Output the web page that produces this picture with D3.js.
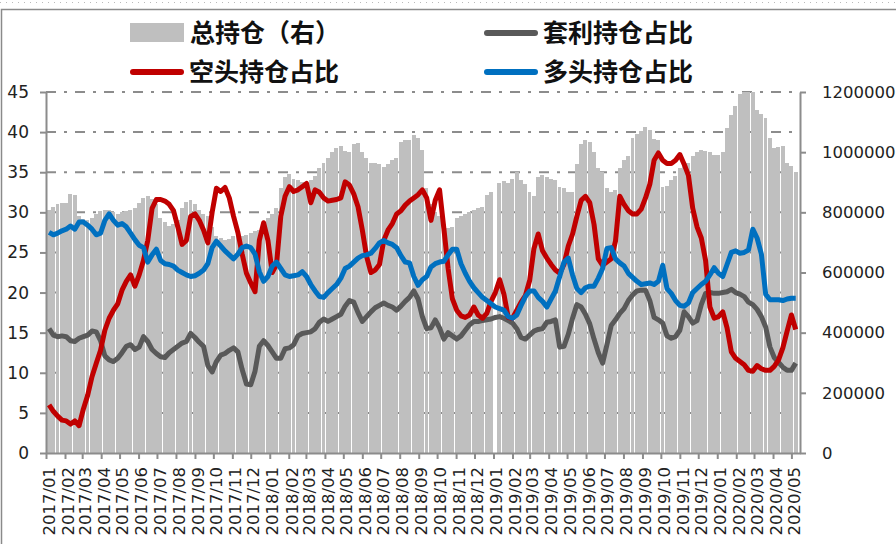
<!DOCTYPE html>
<html lang="zh">
<head>
<meta charset="utf-8" />
<title>持仓结构</title>
<script src="https://d3js.org/d3.v7.min.js"></script>
<style>
    body { margin: 0; background: #fff; }
    svg { display: block; font-family: "DejaVu Sans", sans-serif; }
    .axis text { fill: #222; }
    .legend text { font-family: "Noto Sans CJK SC", sans-serif; font-size: 25px; font-weight: 700; fill: #111; }
</style>
</head>
<body>
<svg width="896" height="544"></svg>
<script>

    // weekly data, first week ending 2017-01-06
    var totalOI = [808000,819000,827000,832000,832000,861000,859000,787000,779000,773000,
        781000,795000,805000,808000,808000,800000,795000,800000,805000,808000,
        816000,832000,848000,853000,843000,827000,781000,768000,755000,760000,
        773000,816000,835000,840000,827000,808000,795000,787000,752000,720000,
        715000,707000,712000,720000,725000,720000,723000,731000,739000,741000,
        752000,781000,795000,813000,880000,917000,928000,912000,907000,901000,
        896000,907000,920000,947000,965000,981000,1000000,1013000,1019000,1003000,
        1000000,1027000,1029000,1000000,981000,965000,963000,960000,952000,960000,
        973000,981000,1035000,1040000,1040000,1056000,1048000,1008000,880000,827000,
        800000,787000,760000,747000,752000,781000,787000,795000,800000,808000,
        813000,819000,859000,869000,null,899000,904000,899000,912000,933000,
        907000,893000,867000,853000,917000,923000,917000,912000,907000,885000,
        880000,869000,867000,960000,1027000,1040000,1035000,1000000,947000,933000,
        880000,867000,875000,947000,973000,987000,1048000,1061000,1072000,1083000,
        1075000,1045000,1040000,885000,888000,907000,920000,947000,960000,965000,
        987000,1000000,1008000,1003000,1000000,992000,989000,1000000,1080000,1125000,
        1152000,1195000,1200000,1200000,1200000,1141000,1128000,1115000,1048000,1013000,
        1016000,1019000,965000,955000,933000];

    var arbShare = [15.5,14.7,14.5,14.6,14.5,14.0,13.9,14.3,14.5,14.7,
        15.2,15.1,14.0,12.1,11.6,11.4,11.8,12.5,13.3,13.5,
        12.9,13.2,14.5,13.9,12.9,12.4,12.0,11.9,12.5,12.9,
        13.3,13.7,13.9,14.9,14.4,13.8,13.3,10.9,10.1,11.4,
        12.2,12.4,12.8,13.1,12.6,10.4,8.6,8.5,10.2,13.3,
        14.0,13.4,12.6,11.8,11.8,13.0,13.1,13.5,14.6,14.9,
        15.0,15.1,15.5,16.3,16.7,16.4,16.7,17.0,17.3,18.3,
        19.0,18.8,17.5,16.4,17.0,17.6,18.1,18.4,18.7,18.4,
        18.2,17.8,18.3,18.9,19.4,20.2,19.2,17.0,15.5,15.6,
        16.6,15.6,14.2,15.0,14.6,14.2,14.6,15.3,16.0,16.4,
        16.4,16.5,16.6,16.7,16.9,17.0,16.8,16.5,16.2,15.5,
        14.4,14.2,14.7,15.2,15.4,15.5,16.3,16.4,16.6,13.2,
        13.3,14.8,16.8,18.5,18.2,17.3,16.1,14.2,12.5,11.2,
        13.5,15.9,16.6,17.4,18.0,19.0,19.7,20.2,20.3,20.3,
        19.0,16.9,16.6,16.2,14.6,14.3,14.5,15.3,17.6,17.0,
        16.2,16.5,18.5,19.9,20.0,19.9,19.9,20.0,20.1,20.4,
        20.0,19.8,19.5,18.8,18.5,17.9,17.0,15.7,13.2,11.9,
        11.3,10.7,10.3,10.3,11.2];

    var shortShare = [6.0,5.2,4.6,4.1,4.0,3.6,4.0,3.4,5.5,7.2,
        9.5,11.2,12.8,15.3,16.8,17.8,18.6,20.3,21.4,22.2,
        20.8,22.2,24.0,26.5,30.5,31.6,31.6,31.4,31.0,30.2,
        28.2,26.0,26.5,29.5,29.8,29.0,27.8,26.2,30.0,33.0,
        32.6,33.1,31.8,29.5,27.5,24.8,22.4,21.2,20.1,26.5,
        28.7,26.5,22.5,23.5,29.5,32.0,33.2,32.6,32.8,33.2,
        33.6,31.2,32.8,32.5,31.8,31.4,31.5,31.6,31.8,33.8,
        33.4,32.3,30.7,27.8,24.5,22.5,22.8,23.5,26.5,27.8,
        28.6,29.8,30.2,30.9,31.4,31.8,32.2,32.8,31.8,29.0,
        31.5,32.8,28.0,23.0,19.2,17.8,17.1,16.9,17.2,18.2,
        17.2,16.8,17.4,18.9,20.0,21.6,19.8,16.9,16.8,17.8,
        18.8,19.6,21.5,25.5,27.3,25.2,24.3,23.5,22.8,22.4,
        23.5,25.8,27.3,29.5,31.5,32.0,31.2,28.5,24.2,23.4,
        23.8,24.2,26.4,32.0,31.0,30.2,29.8,29.8,30.4,31.8,
        33.5,36.5,37.4,36.5,36.1,36.1,36.5,37.2,36.0,34.6,
        30.5,28.2,26.8,24.0,18.2,16.8,17.0,17.6,15.6,12.6,
        11.8,11.4,11.0,10.3,10.2,10.9,10.5,10.3,10.3,10.8,
        11.6,13.1,15.2,17.2,15.4];

    var longShare = [27.5,27.2,27.4,27.7,27.9,28.3,27.9,28.8,28.8,28.4,
        27.9,27.2,27.4,29.0,29.8,29.0,28.4,28.6,28.2,27.4,
        26.6,25.9,25.6,23.8,24.7,25.4,24.0,23.6,23.5,23.3,
        22.8,22.5,22.2,22.0,22.1,22.4,22.8,23.6,25.6,26.4,
        25.8,25.2,24.7,24.2,24.8,25.6,25.8,25.6,24.8,22.6,
        21.4,22.0,23.3,23.8,23.0,22.2,22.0,22.1,22.2,22.6,
        22.0,21.0,20.2,19.5,19.4,20.0,20.5,21.0,21.8,23.0,
        23.3,23.8,24.3,24.6,24.7,24.9,25.5,26.2,26.5,26.2,
        26.0,25.6,24.6,23.8,23.7,22.0,20.9,21.6,22.0,23.2,
        23.6,23.8,23.9,24.7,25.4,25.4,23.6,22.4,21.4,20.6,
        20.0,19.4,19.0,18.6,18.2,18.0,17.8,17.0,16.8,17.2,
        18.4,19.5,20.2,20.2,19.4,18.9,18.2,19.2,20.2,22.0,
        23.8,24.3,22.2,20.5,20.0,20.6,20.8,20.8,21.8,23.0,
        25.5,25.6,24.2,23.7,23.3,22.4,21.9,21.4,21.0,21.1,
        21.2,21.0,21.4,23.4,20.5,19.9,19.0,18.4,18.3,18.7,
        20.0,20.5,21.0,21.4,22.2,23.1,22.4,22.0,23.5,25.0,
        25.2,24.9,25.0,25.3,27.9,26.8,24.8,19.8,19.1,19.1,
        19.1,19.0,19.2,19.3,19.3];

    var leftTicks = [0, 5, 10, 15, 20, 25, 30, 35, 40, 45];
    var rightTicks = [0, 200000, 400000, 600000, 800000, 1000000, 1200000];

    var firstWeek = new Date(2017, 0, 6);
    var weeks = totalOI.map(function (d, i) { return d3.timeDay.offset(firstWeek, 7 * i); });
    var months = d3.timeMonth.range(new Date(2017, 0, 1), new Date(2020, 4, 2));

    var svg = d3.select("svg"),
        plot = { left: 46, right: 800, top: 92, bottom: 453 };

    var x = d3.scaleTime()
        .domain([new Date(2017, 0, 1), new Date(2020, 4, 15)])
        .range([plot.left, plot.right]);
    var yL = d3.scaleLinear().domain([0, 45]).range([plot.bottom, plot.top]);
    var yR = d3.scaleLinear().domain([0, 1200000]).range([plot.bottom, plot.top]);
    var step = x(weeks[1]) - x(weeks[0]);

    // frame
    svg.append("line")
        .attr("x1", 0).attr("x2", 896).attr("y1", 2.5).attr("y2", 2.5)
        .attr("stroke", "#bbb").attr("stroke-dasharray", "1,5");
    svg.append("path")
        .attr("d", "M1.5,560V9.5H896")
        .attr("fill", "none").attr("stroke", "#8a8a8a").attr("stroke-width", 1.5);

    // grid
    svg.append("g").selectAll("line")
        .data(leftTicks.slice(1))
        .enter().append("line")
        .attr("x1", plot.left).attr("x2", plot.right)
        .attr("y1", function (d) { return yL(d); })
        .attr("y2", function (d) { return yL(d); })
        .attr("stroke", "#8c8c8c")
        .attr("stroke-width", 2)
        .attr("stroke-dasharray", "10,8,3,8");

    // bars
    svg.append("g").selectAll("rect")
        .data(totalOI.map(function (v, i) { return { date: weeks[i], value: v }; })
            .filter(function (d) { return d.value != null; }))
        .enter().append("rect")
        .attr("shape-rendering", "crispEdges")
        .attr("fill", "#bfbfbf")
        .attr("x", function (d) { return x(d.date) - step / 2; })
        .attr("width", step - 0.35)
        .attr("y", function (d) { return yR(d.value); })
        .attr("height", function (d) { return plot.bottom - yR(d.value); });

    // axes
    var axL = svg.append("g").attr("class", "axis")
        .attr("transform", "translate(" + plot.left + ",0)")
        .call(d3.axisLeft(yL).tickValues(leftTicks).tickSize(6).tickSizeOuter(0).tickPadding(11));
    var axR = svg.append("g").attr("class", "axis")
        .attr("transform", "translate(" + plot.right + ",0)")
        .call(d3.axisRight(yR).tickValues(rightTicks).tickFormat(d3.format("d"))
            .tickSize(6).tickSizeOuter(0).tickPadding(16));
    var axB = svg.append("g").attr("class", "axis")
        .attr("transform", "translate(0," + plot.bottom + ")")
        .call(d3.axisBottom(x).tickValues(months).tickFormat(d3.timeFormat("%Y/%m")).tickSize(6).tickSizeOuter(0));

    [axL, axR, axB].forEach(function (a) {
        a.select(".domain").attr("stroke", "#8c8c8c").attr("stroke-width", 2);
        a.selectAll(".tick line").attr("stroke", "#8c8c8c").attr("stroke-width", 2);
    });
    axL.selectAll("text").attr("font-size", 17).attr("font-family", "DejaVu Sans");
    axR.selectAll("text").attr("font-size", 16.5).attr("font-family", "DejaVu Sans");
    axB.selectAll("text")
        .attr("font-size", 16.5)
        .attr("font-family", "DejaVu Sans")
        .attr("text-anchor", "end")
        .attr("transform", "rotate(-90)")
        .attr("x", -14).attr("y", 0).attr("dy", "0.5em");

    // lines
    var series = [
        { name: "套利持仓占比", values: arbShare, color: "#595959" },
        { name: "空头持仓占比", values: shortShare, color: "#c00000" },
        { name: "多头持仓占比", values: longShare, color: "#0070c0" }
    ];
    var line = d3.line()
        .x(function (d, i) { return x(weeks[i]); })
        .y(function (d) { return yL(d); });

    svg.append("g").selectAll("path")
        .data(series)
        .enter().append("path")
        .attr("fill", "none")
        .attr("stroke", function (d) { return d.color; })
        .attr("stroke-width", 5)
        .attr("stroke-linejoin", "round")
        .attr("d", function (d) { return line(d.values); });

    // legend
    var lg = svg.append("g").attr("class", "legend");
    lg.append("rect").attr("x", 130).attr("y", 23).attr("width", 54).attr("height", 19).attr("fill", "#bfbfbf");
    lg.append("text").attr("x", 190).attr("y", 42).text("总持仓（右）");

    var legendItems = [
        { s: series[0], x: 484, y: 33 },
        { s: series[1], x: 130, y: 72 },
        { s: series[2], x: 484, y: 72 }
    ];
    legendItems.forEach(function (d) {
        lg.append("line")
            .attr("x1", d.x + 3).attr("x2", d.x + 51)
            .attr("y1", d.y).attr("y2", d.y)
            .attr("stroke", d.s.color).attr("stroke-width", 6).attr("stroke-linecap", "round");
        lg.append("text").attr("x", d.x + 59).attr("y", d.y + 9).text(d.s.name);
    });

</script>
</body>
</html>
